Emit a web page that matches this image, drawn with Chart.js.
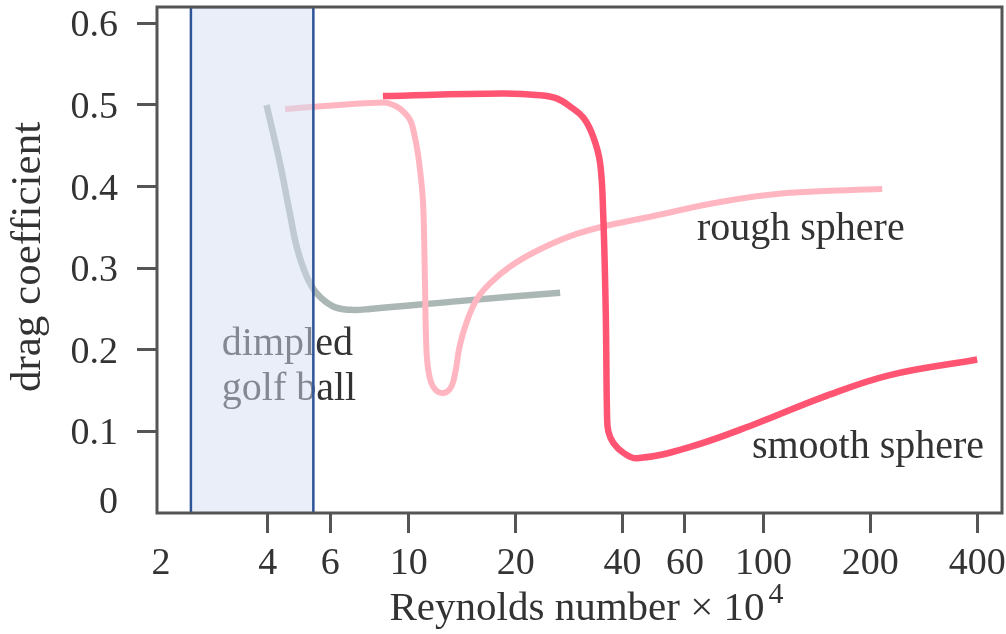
<!DOCTYPE html>
<html>
<head>
<meta charset="utf-8">
<script src="https://cdn.jsdelivr.net/npm/chart.js@4.4.1/dist/chart.umd.min.js"></script>
<style>
  html, body { margin: 0; padding: 0; background: #fff; }
  #wrap { width: 1006px; height: 634px; }
</style>
</head>
<body>
<div id="wrap"><canvas id="drag_chart" width="1006" height="634"></canvas></div>
<script>
// values (x = Reynolds number / 10^4, y = drag coefficient)
const golf_x = [3.97, 4.33, 4.62, 4.83, 5.15, 5.5, 6.12, 6.83, 7.77, 13.3, 26.7];
const golf_y = [0.500, 0.429, 0.367, 0.326, 0.290, 0.269, 0.253, 0.249, 0.250, 0.259, 0.270];

const rough_x = [4.48, 8.48, 9.14, 9.64, 10.07, 10.3, 10.6, 10.9, 11.0, 11.1, 11.2, 11.35, 11.7, 12.4, 13.1, 13.5, 13.9, 14.5, 15.5, 16.9, 19.3, 22.9, 28.4, 35.3, 47.9, 75.4, 116, 216];
const rough_y = [0.495, 0.503, 0.499, 0.492, 0.482, 0.469, 0.441, 0.396, 0.367, 0.286, 0.204, 0.175, 0.155, 0.147, 0.153, 0.171, 0.204, 0.232, 0.261, 0.281, 0.302, 0.321, 0.339, 0.351, 0.363, 0.381, 0.392, 0.397];

const smooth_x = [8.45, 18.4, 23.4, 26.1, 28.5, 31.1, 33.1, 34.6, 35.3, 35.9, 36.2, 36.5, 37.7, 40.2, 44.0, 62.1, 95.9, 147, 227, 400];
const smooth_y = [0.511, 0.514, 0.512, 0.508, 0.498, 0.484, 0.461, 0.429, 0.367, 0.245, 0.120, 0.100, 0.086, 0.074, 0.067, 0.081, 0.110, 0.142, 0.169, 0.188];

// shaded golf ball band
const band_x = [2.43, 5.38];

const x_ticks = [2, 4, 6, 10, 20, 40, 60, 100, 200, 400];
const y_ticks = [0, 0.1, 0.2, 0.3, 0.4, 0.5, 0.6];

const note_text = ['rough sphere', 'smooth sphere', 'dimpled', 'golf ball'];
const note_x = [64.9, 92.7, 2.97, 2.97];
const note_y = [0.334, 0.068, 0.194, 0.138];

const text_color = '#333333';
const axis_color = '#555555';
const font_family = '"Liberation Serif", "Times New Roman", serif';

const to_points = (xs, ys) => xs.map((x, i) => ({x: x, y: ys[i]}));

const y_max = 0.62;

const band_points = [
    {x: band_x[0], y: 0},
    {x: band_x[0], y: y_max},
    {x: band_x[1], y: y_max},
    {x: band_x[1], y: 0}
];

const drag_plugin = {
    id: 'drag_plugin',
    beforeDatasetsDraw(chart) {
        const ctx = chart.ctx;
        const xs = chart.scales.x;
        const ys = chart.scales.y;
        ctx.save();
        ctx.font = '40px ' + font_family;
        ctx.fillStyle = text_color;
        ctx.textAlign = 'left';
        ctx.textBaseline = 'alphabetic';
        note_text.forEach((t, i) => {
            ctx.fillText(t, xs.getPixelForValue(note_x[i]), ys.getPixelForValue(note_y[i]));
        });
        ctx.restore();
    },
    afterDraw(chart) {
        const ctx = chart.ctx;
        const area = chart.chartArea;
        const ys = chart.scales.y;
        ctx.save();

        // box around the plot
        ctx.strokeStyle = axis_color;
        ctx.lineWidth = 3;
        ctx.strokeRect(area.left, area.top, area.right - area.left, area.bottom - area.top);

        // the zero label sits a bit above the corner
        ctx.fillStyle = text_color;
        ctx.font = '38px ' + font_family;
        ctx.textAlign = 'right';
        ctx.textBaseline = 'middle';
        ctx.fillText('0', area.left - 39, ys.getPixelForValue(0) - 10);

        // x title with superscript
        ctx.textBaseline = 'alphabetic';
        ctx.textAlign = 'left';
        const main = 'Reynolds number \u00d7 10';
        ctx.font = '41px ' + font_family;
        const main_w = ctx.measureText(main).width;
        ctx.font = '30px ' + font_family;
        const sup_w = ctx.measureText('4').width;
        const cx = (area.left + area.right) / 2 + 7;
        const start = cx - (main_w + sup_w + 4) / 2;
        ctx.font = '41px ' + font_family;
        ctx.fillText(main, start, 620);
        ctx.font = '30px ' + font_family;
        ctx.fillText('4', start + main_w + 4, 603);

        // y title
        ctx.font = '43px ' + font_family;
        ctx.textAlign = 'center';
        ctx.textBaseline = 'middle';
        ctx.translate(29, (area.top + area.bottom) / 2 - 3);
        ctx.rotate(-Math.PI / 2);
        ctx.fillText('drag coefficient', 0, 0);

        ctx.restore();
    }
};

const chart_data = {
    datasets: [
        {
            label: 'golf ball band',
            data: band_points,
            borderColor: '#2e5597',
            borderWidth: 2.5,
            backgroundColor: 'rgba(211, 221, 241, 0.5)',
            fill: 'origin',
            pointRadius: 0,
            tension: 0
        },
        {
            label: 'smooth sphere',
            data: to_points(smooth_x, smooth_y),
            borderColor: '#ff5573',
            borderWidth: 6.5,
            pointRadius: 0,
            fill: false,
            tension: 0.4
        },
        {
            label: 'rough sphere',
            data: to_points(rough_x, rough_y),
            borderColor: '#ffb6c1',
            borderWidth: 6,
            pointRadius: 0,
            fill: false,
            tension: 0.4
        },
        {
            label: 'dimpled golf ball',
            data: to_points(golf_x, golf_y),
            borderColor: '#aab7b5',
            borderWidth: 6.5,
            pointRadius: 0,
            fill: false,
            tension: 0.4
        }
    ]
};

const config = {
    type: 'line',
    data: chart_data,
    plugins: [drag_plugin],
    options: {
        responsive: false,
        animation: false,
        events: [],
        layout: {
            padding: {left: 0, right: 4, top: 7, bottom: 0}
        },
        plugins: {
            legend: {display: false},
            tooltip: {enabled: false}
        },
        scales: {
            x: {
                type: 'logarithmic',
                min: 1.95,
                max: 470,
                border: {display: false},
                grid: {
                    drawOnChartArea: false,
                    drawTicks: true,
                    tickLength: 20,
                    tickWidth: 3,
                    tickColor: (c) => (c.tick && c.tick.value === 2) ? 'rgba(0,0,0,0)' : axis_color
                },
                ticks: {
                    autoSkip: false,
                    maxRotation: 0,
                    padding: 8,
                    color: text_color,
                    font: {family: font_family, size: 38},
                    callback: (v) => String(v)
                },
                afterBuildTicks: (scale) => {
                    scale.ticks = x_ticks.map(v => ({value: v}));
                },
                afterFit: (scale) => {
                    scale.height = 121;
                    scale.paddingLeft = 0;
                    scale.paddingRight = 0;
                }
            },
            y: {
                min: 0,
                max: y_max,
                border: {display: false},
                grid: {
                    drawOnChartArea: false,
                    drawTicks: true,
                    tickLength: 20,
                    tickWidth: 3,
                    tickColor: (c) => (c.tick && c.tick.value === 0) ? 'rgba(0,0,0,0)' : axis_color
                },
                ticks: {
                    padding: 19,
                    labelOffset: 3,
                    color: text_color,
                    font: {family: font_family, size: 38},
                    // zero is drawn by the plugin
                    callback: (v) => v === 0 ? '' : v.toFixed(1)
                },
                afterBuildTicks: (scale) => {
                    scale.ticks = y_ticks.map(v => ({value: v}));
                },
                afterFit: (scale) => {
                    scale.width = 157;
                    scale.paddingTop = 0;
                    scale.paddingBottom = 0;
                }
            }
        }
    }
};

const drag_chart = new Chart(document.getElementById('drag_chart'), config);
</script>
</body>
</html>
